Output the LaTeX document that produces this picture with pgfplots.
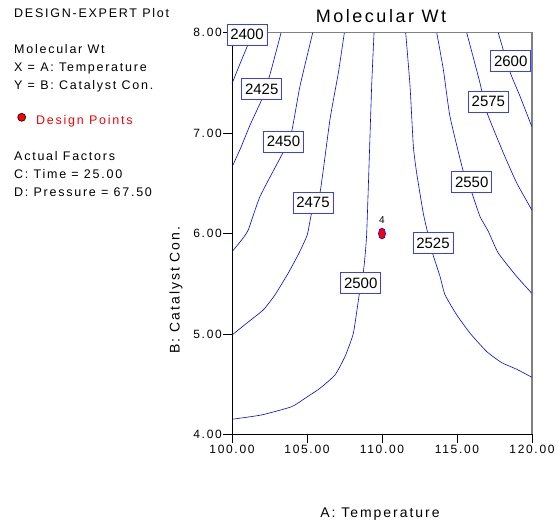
\documentclass[border=0pt]{standalone}
\usepackage{fontspec}
\setmainfont{Liberation Sans}[LetterSpace=14]
\newfontfamily\plainfont{Liberation Sans}
\usepackage{pgfplots}
\pgfplotsset{compat=1.18}
\definecolor{axgray}{RGB}{128,128,128}
\definecolor{cblue}{RGB}{0,0,255}
\definecolor{bblue}{RGB}{60,60,255}
\newcommand\fs[1]{\fontsize{#1}{#1}\selectfont}

\begin{document}
\begin{tikzpicture}[x=1pt,y=1pt]
\useasboundingbox (0,0) rectangle (558,527);
\begin{axis}[
  at={(232pt,92.7pt)}, anchor=south west,
  scale only axis, width=300pt, height=401.5pt,
  xmin=100, xmax=120, ymin=4, ymax=8,
  axis lines=left, axis line style={-, black, line width=0.8pt},
  xtick={100,105,110,115,120}, ytick={4,5,6,7,8},
  tick align=outside, major tick length=9pt,
  tick style={black, line width=0.8pt},
  xtick pos=bottom, ytick pos=left,
  /pgf/number format/.cd, fixed, fixed zerofill, precision=2, assume math mode=true,
  /pgfplots/.cd,
  ticklabel style={font=\fs{12}},
  yticklabel style={inner sep=1pt},
  xticklabel style={inner sep=2pt},
  clip=false,
]
\draw[axgray, line width=1.2pt] (rel axis cs:0,1) -- (rel axis cs:1,1) -- (rel axis cs:1,0);

% contours
\addplot[cblue, line width=0.6pt, smooth, tension=0.3] coordinates {
  (100,7.494) (100.53,7.69) (101.07,7.884) (101.4,8.0)};
\addplot[cblue, line width=0.6pt, smooth, tension=0.3] coordinates {
  (100.02,6.669) (100.6,6.86) (101.2,7.08) (101.98,7.335) (102.53,7.584) (103.27,8.0)};
\addplot[cblue, line width=0.6pt, smooth, tension=0.3] coordinates {
  (100.02,5.822) (100.65,5.938) (101.09,6.038) (101.87,6.370) (103.42,6.813)
  (103.98,7.018) (104.53,7.467) (105.38,8.0)};
\addplot[cblue, line width=0.6pt, smooth, tension=0.3] coordinates {
  (100.02,4.991) (100.98,5.107) (102.09,5.240) (102.87,5.390) (103.75,5.606)
  (104.47,5.806) (105.02,5.988) (105.31,6.205) (105.87,6.410) (106.53,7.135)
  (107.09,7.601) (107.49,8.0)};
\addplot[cblue, line width=0.6pt, smooth, tension=0.3] coordinates {
  (100.02,4.150) (101.98,4.193) (103.98,4.275) (104.87,4.359) (105.87,4.459)
  (106.87,4.592) (107.53,4.774) (108.09,5.007) (108.49,5.400) (108.75,5.606)
  (108.98,6.005) (109.31,7.467) (109.47,8.0)};
\addplot[cblue, line width=0.6pt, smooth, tension=0.3] coordinates {
  (111.58,8.0) (111.87,7.467) (112.09,6.869) (112.31,6.604) (112.75,6.204)
  (113.05,6.005) (113.38,5.799) (113.87,5.572) (114.2,5.390) (114.98,5.190)
  (115.87,5.007) (116.98,4.824) (117.98,4.714) (118.98,4.648) (119.98,4.569)};
\addplot[cblue, line width=0.6pt, smooth, tension=0.3] coordinates {
  (113.65,8.0) (114.09,7.634) (114.53,7.168) (115.42,6.619) (115.98,6.410)
  (116.53,6.171) (117.09,6.021) (117.75,5.806) (118.98,5.572) (119.98,5.406)};
\addplot[cblue, line width=0.6pt, smooth, tension=0.3] coordinates {
  (115.65,8.0) (116.53,7.501) (116.98,7.212) (118.09,6.803) (118.98,6.504) (119.98,6.237)};
\addplot[cblue, line width=0.6pt, smooth, tension=0.3] coordinates {
  (117.75,8.0) (118.53,7.611) (119.2,7.368) (119.98,7.068)};

% design point
\addplot[only marks, mark=*, mark size=5.5pt,
  mark options={fill=red, draw=cblue, line width=0.6pt, xscale=0.64}]
  coordinates {(110,6.0)};
\node[font=\plainfont\fs{10}, inner sep=0pt] at (axis cs:110,6.13) {4};

% contour labels
\tikzset{clab/.style={draw=bblue, line width=0.7pt, fill=white, font=\plainfont\fs{15},
  minimum width=40pt, minimum height=21pt, inner sep=0pt}}
\node[clab] at (axis cs:101.0,7.98) {2400};
\node[clab] at (axis cs:101.98,7.437) {2425};
\node[clab] at (axis cs:103.43,6.916) {2450};
\node[clab] at (axis cs:105.4,6.307) {2475};
\node[clab] at (axis cs:108.58,5.506) {2500};
\node[clab] at (axis cs:113.4,5.905) {2525};
\node[clab] at (axis cs:115.98,6.514) {2550};
\node[clab] at (axis cs:117.09,7.317) {2575};
\node[clab] at (axis cs:118.58,7.716) {2600};
\end{axis}

% title and axis labels
\node[anchor=base, inner sep=0pt, font=\fs{18}] at (381,504.3) {Molecular Wt};
\node[anchor=base, inner sep=0pt, font=\fs{14}] at (380,9) {A: Temperature};
\node[rotate=90, inner sep=0pt, font=\fs{14}] at (176,237) {B: Catalyst Con.};

% side notes
\begin{scope}[every node/.style={anchor=base west, inner sep=0pt, font=\fs{12.5}}]
\node at (14,509.7) {DESIGN-EXPERT Plot};
\node at (14,473.7) {Molecular Wt};
\node at (14,455.3) {X = A: Temperature};
\node at (14,437) {Y = B: Catalyst Con.};
\node[text=red] at (36,402) {Design Points};
\node at (14,366.3) {Actual Factors};
\node at (14,348) {C: Time = 25.00};
\node at (14,330.3) {D: Pressure = 67.50};
\end{scope}
\filldraw[fill=red, draw=black, line width=0.6pt] (21.7,409.7) circle (4);
\end{tikzpicture}
\end{document}
